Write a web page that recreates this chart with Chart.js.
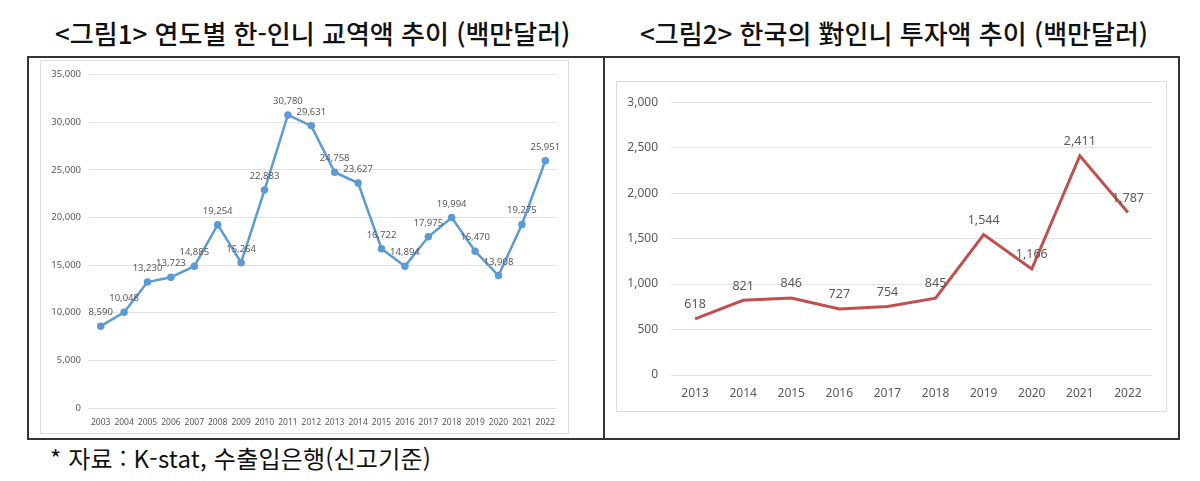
<!DOCTYPE html>
<html lang="ko">
<head>
<meta charset="utf-8">
<script src="https://cdn.jsdelivr.net/npm/chart.js@4.4.0/dist/chart.umd.min.js"></script>
<style>
  body { margin: 0; background: #fff; width: 1200px; height: 481px; overflow: hidden; position: relative; font-family: 'Noto Sans CJK KR', 'Noto Sans', sans-serif; }
  .title { position: absolute; top: 14px; font-size: 26px; font-weight: 500; color: #111; white-space: nowrap; letter-spacing: 0; }
  .frame { position: absolute; left: 27px; top: 56px; width: 1149px; height: 380px; border: 2px solid #333; }
  .divider { position: absolute; left: 603px; top: 56px; width: 2px; height: 382px; background: #333; }
  .box { position: absolute; border: 1px solid #dcdcdc; }
  .note { position: absolute; left: 50px; top: 440px; font-size: 24px; color: #111; white-space: nowrap; letter-spacing: 0.2px; }
</style>
</head>
<body>
<div class="title" style="left:55px">&lt;그림1&gt; 연도별 한-인니 교역액 추이 (백만달러)</div>
<div class="title" style="left:640px">&lt;그림2&gt; 한국의 對인니 투자액 추이 (백만달러)</div>
<div class="frame"></div>
<div class="divider"></div>
<div class="box" style="left:40px;top:60px;width:527px;height:372px"><canvas id="c1" width="527" height="372"></canvas></div>
<div class="box" style="left:616px;top:81px;width:549px;height:329px"><canvas id="c2" width="549" height="329"></canvas></div>
<div class="note">* 자료 : K-stat, 수출입은행(신고기준)</div>

<script>
const tradeYears = ['2003','2004','2005','2006','2007','2008','2009','2010','2011','2012','2013','2014','2015','2016','2017','2018','2019','2020','2021','2022'];
const tradeValues = [8590, 10048, 13230, 13723, 14885, 19254, 15264, 22883, 30780, 29631, 24758, 23627, 16722, 14894, 17975, 19994, 16470, 13908, 19275, 25951];

const investYears = ['2013','2014','2015','2016','2017','2018','2019','2020','2021','2022'];
const investValues = [618, 821, 846, 727, 754, 845, 1544, 1166, 2411, 1787];

const fmt = v => Number(v).toLocaleString('en-US');

// draws value labels above each point
const valueLabels = {
  id: 'valueLabels',
  afterDatasetsDraw(chart, args, opts) {
    const ctx = chart.ctx;
    const meta = chart.getDatasetMeta(0);
    const data = chart.data.datasets[0].data;
    ctx.save();
    ctx.font = opts.size + 'px "Noto Sans"';
    ctx.fillStyle = '#595959';
    ctx.textAlign = 'center';
    ctx.textBaseline = 'bottom';
    meta.data.forEach((pt, i) => {
      ctx.fillText(fmt(data[i]), pt.x, pt.y - opts.offset);
    });
    ctx.restore();
  }
};

function makeChart(id, labels, values, o) {
  return new Chart(document.getElementById(id), {
    type: 'line',
    data: {
      labels: labels,
      datasets: [{
        data: values,
        borderColor: o.color,
        backgroundColor: o.color,
        borderWidth: o.lineWidth,
        pointRadius: o.pointRadius,
        pointHoverRadius: o.pointRadius,
        tension: 0,
      }],
    },
    options: {
      responsive: false,
      animation: false,
      layout: { padding: o.padding },
      plugins: {
        legend: { display: false },
        tooltip: { enabled: false },
        valueLabels: { size: o.labelSize, offset: o.labelOffset },
      },
      scales: {
        x: {
          offset: true,
          afterFit: s => { s.height = o.xHeight; },
          grid: { display: false, drawTicks: false },
          border: { display: false },
          ticks: { color: '#595959', font: { family: 'Noto Sans', size: o.xTickSize }, maxRotation: 0, autoSkip: false, padding: o.xPad },
        },
        y: {
          min: 0,
          max: o.max,
          afterFit: s => { s.width = o.yWidth; },
          grid: { color: '#e3e3e3', drawTicks: false },
          border: { display: false },
          ticks: { stepSize: o.step, color: '#595959', font: { family: 'Noto Sans', size: o.yTickSize }, padding: o.yPad, callback: v => fmt(v) },
        },
      },
    },
    plugins: [valueLabels],
  });
}

makeChart('c1', tradeYears, tradeValues, {
  color: '#5b9bd5', lineWidth: 2.5, pointRadius: 2.5, max: 35000, step: 5000,
  xTickSize: 8.5, yTickSize: 9.5, labelSize: 9.5, labelOffset: 9, yWidth: 48, yPad: 8, xPad: 9, xHeight: 25,
  padding: { top: 12, right: 11, bottom: 0, left: 0 },
});

makeChart('c2', investYears, investValues, {
  color: '#c0504d', lineWidth: 3, pointRadius: 0, max: 3000, step: 500,
  xTickSize: 12, yTickSize: 12, labelSize: 12.5, labelOffset: 8, yWidth: 54, yPad: 13, xPad: 11, xHeight: 36,
  padding: { top: 17, right: 14, bottom: 0, left: 0 },
});
</script>
</body>
</html>
